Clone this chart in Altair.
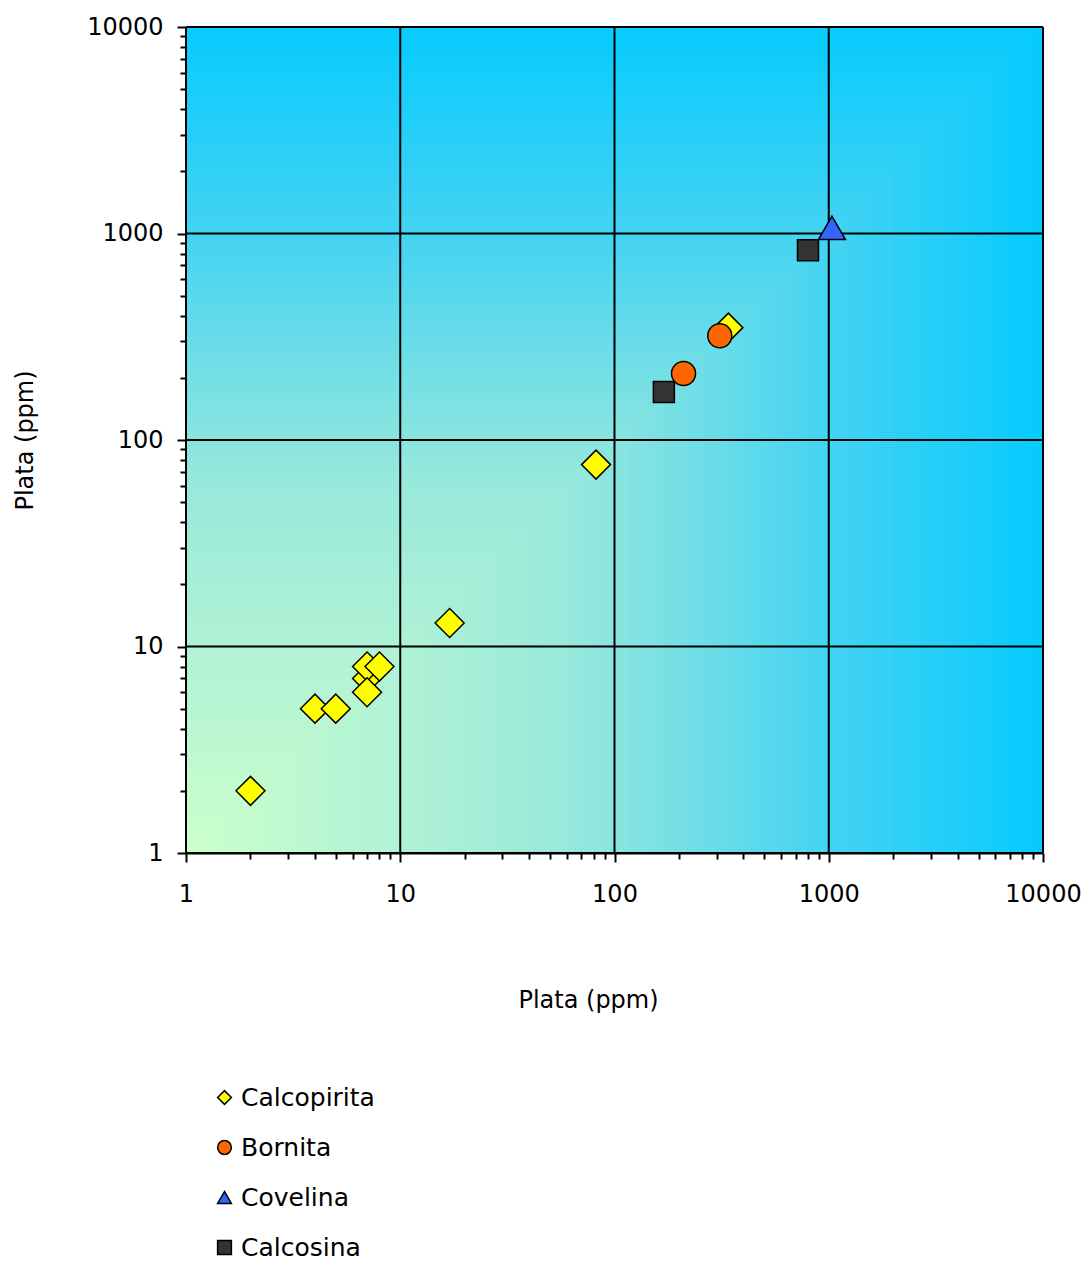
import altair as alt
import pandas as pd

# Silver content (ppm) measured in each mineral
calcopirita_x = [7, 2, 4, 5, 7, 8, 7, 17, 82, 340]
calcopirita_y = [7, 2, 5, 5, 8, 8, 6, 13, 76, 350]
bornita_x = [210, 310]
bornita_y = [210, 320]
covelina_x = [1035]
covelina_y = [1065]
calcosina_x = [170, 800]
calcosina_y = [171, 830]

minerals = ["Calcopirita", "Bornita", "Covelina", "Calcosina"]
fills = ["#ffff00", "#ff6600", "#3366ff", "#333333"]
shapes = ["diamond", "circle", "triangle-up", "square"]
marker_area = {"Calcopirita": 840, "Bornita": 576, "Covelina": 729, "Calcosina": 441}

major_ticks = [1, 10, 100, 1000, 10000]
minor_ticks = [m * 10 ** d for d in range(4) for m in range(2, 10)]

rows = []
for name, xs, ys in [
    ("Calcopirita", calcopirita_x, calcopirita_y),
    ("Bornita", bornita_x, bornita_y),
    ("Covelina", covelina_x, covelina_y),
    ("Calcosina", calcosina_x, calcosina_y),
]:
    for xv, yv in zip(xs, ys):
        rows.append({"mineral": name, "x": xv, "y": yv})
points = pd.DataFrame(rows)
points["order"] = range(len(points))
points["area"] = points["mineral"].map(marker_area)

W, H = 857, 826
FONT = "DejaVu Sans"

xscale = alt.Scale(type="log", domain=[1, 10000], nice=False)
yscale = alt.Scale(type="log", domain=[1, 10000], nice=False)


def hex_to_rgb(h):
    return [int(h[i:i + 2], 16) for i in (1, 3, 5)]


def blend(stops, t):
    for (t0, c0), (t1, c1) in zip(stops, stops[1:]):
        if t <= t1:
            f = (t - t0) / (t1 - t0)
            a, b = hex_to_rgb(c0), hex_to_rgb(c1)
            return "#" + "".join(f"{round(p + (q - p) * f):02x}" for p, q in zip(a, b))
    return stops[-1][1]


# Corner-shaded plot background: nested squares from the origin corner,
# pale green at (1, 1) to cyan along the far edges
shade_stops = [(0.0, "#ccffcc"), (0.45, "#98e8dc"), (0.75, "#44d3f2"), (1.0, "#06cbfe")]
n_bands = 120
bands = []
for i in range(n_bands, 0, -1):
    t = i / n_bands
    bands.append({"x": 1, "y": 1, "x2": 10 ** (4 * t), "y2": 10 ** (4 * t),
                  "shade": blend(shade_stops, t - 0.5 / n_bands)})
bands = pd.DataFrame(bands)
bands["k"] = range(len(bands))

background = alt.Chart(bands).mark_rect(strokeWidth=0).encode(
    x=alt.X("x:Q", scale=xscale, axis=alt.Axis(
        orient="bottom", values=major_ticks, format="d", grid=False,
        domainColor="black", domainWidth=2, tickColor="black", tickWidth=2,
        tickSize=9, labelPadding=20, labelFontSize=24, labelFont=FONT,
        labelColor="black", title="Plata (ppm)", titleFont=FONT,
        titleFontSize=24, titleFontWeight="normal", titleColor="black",
        titleX=402, titleY=147, titleBaseline="middle",
        labelFlush=False, labelOverlap=False,
    )),
    x2="x2:Q",
    y=alt.Y("y:Q", scale=yscale, axis=alt.Axis(
        orient="left", values=major_ticks, format="d", grid=False,
        domainColor="black", domainWidth=2, tickColor="black", tickWidth=2,
        tickSize=9, labelPadding=14, labelFontSize=24, labelFont=FONT,
        labelColor="black", title="Plata (ppm)", titleFont=FONT,
        titleFontSize=24, titleFontWeight="normal", titleColor="black",
        titleX=-161, titleY=413, titleBaseline="middle", titleAngle=-90,
        labelFlush=False, labelOverlap=False,
    )),
    y2="y2:Q",
    color=alt.Color("shade:N", scale=None),
    order=alt.Order("k:Q"),
)

# Minor tick marks for the intermediate values of every decade
minor = alt.Chart(pd.DataFrame({"x": [1], "y": [1]})).mark_point(opacity=0).encode(
    x=alt.X("x:Q", scale=xscale, axis=alt.Axis(
        orient="bottom", values=minor_ticks, labels=False, grid=False,
        domain=False, tickColor="black", tickWidth=2, tickSize=6, title=None,
    )),
    y=alt.Y("y:Q", scale=yscale, axis=alt.Axis(
        orient="left", values=minor_ticks, labels=False, grid=False,
        domain=False, tickColor="black", tickWidth=2, tickSize=6, title=None,
    )),
)

# Major grid lines at every decade
grid_df = pd.DataFrame({"v": major_ticks})
vgrid = alt.Chart(grid_df).mark_rule(color="black", strokeWidth=2).encode(
    x=alt.X("v:Q", scale=xscale, axis=None)
)
hgrid = alt.Chart(grid_df).mark_rule(color="black", strokeWidth=2).encode(
    y=alt.Y("v:Q", scale=yscale, axis=None)
)

markers = alt.Chart(points).mark_point(
    filled=True, stroke="black", strokeWidth=1.5, opacity=1,
).encode(
    x=alt.X("x:Q", scale=xscale, axis=None),
    y=alt.Y("y:Q", scale=yscale, axis=None),
    color=alt.Color("mineral:N", scale=alt.Scale(domain=minerals, range=fills),
                    legend=alt.Legend(
                        title=None, orient="none", legendX=26, legendY=1058,
                        labelFont=FONT, labelFontSize=25, labelColor="black",
                        symbolSize=190, symbolStrokeColor="black",
                        symbolStrokeWidth=1.5, rowPadding=24, labelOffset=4,
                        padding=0, symbolOpacity=1,
                    )),
    shape=alt.Shape("mineral:N", scale=alt.Scale(domain=minerals, range=shapes)),
    size=alt.Size("area:Q", scale=None),
    order=alt.Order("order:Q"),
)

chart = alt.layer(background, minor, vgrid, hgrid, markers).resolve_axis(
    x="independent", y="independent"
).properties(
    width=W, height=H,
    autosize=alt.AutoSizeParams(type="none"),
    padding={"left": 186, "top": 27, "right": 42, "bottom": 410},
    background="white",
).configure_view(stroke=None)

chart.save("out.html", embed_options={"renderer": "svg", "actions": False})
